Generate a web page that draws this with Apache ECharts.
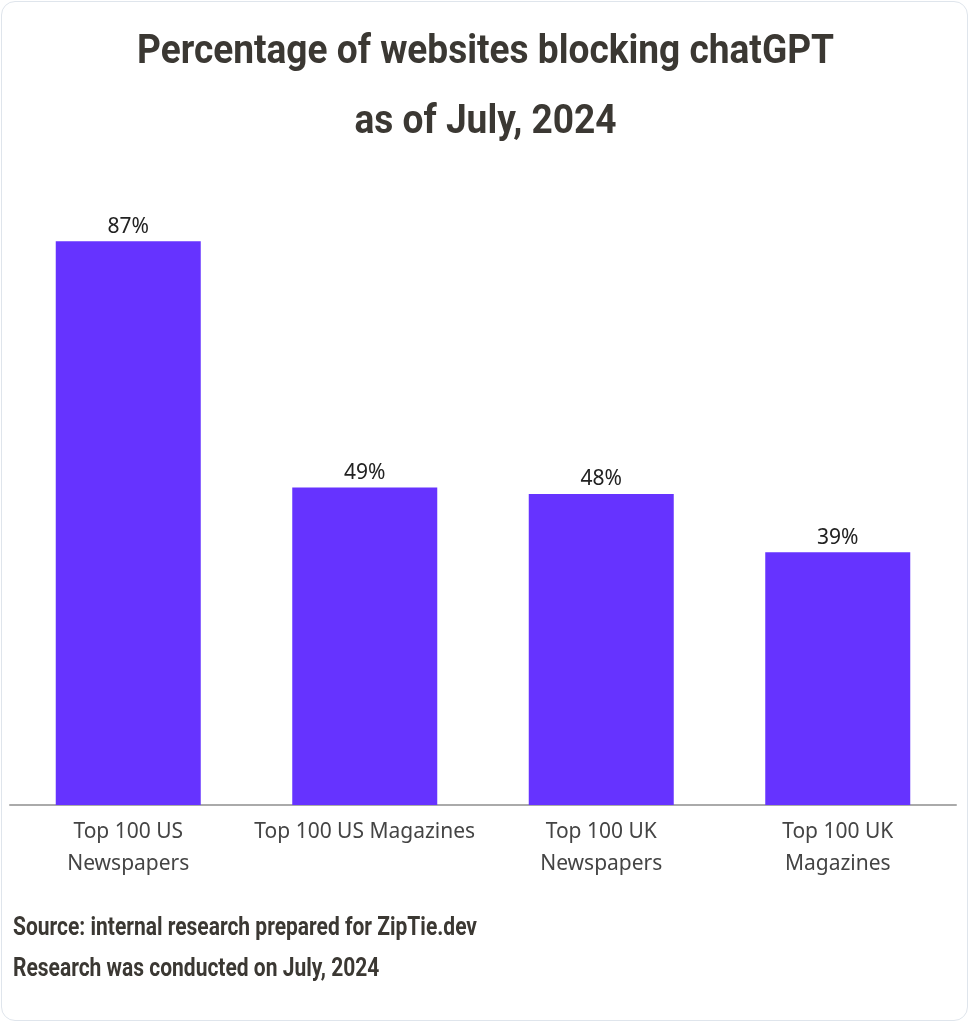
<!DOCTYPE html>
<html><head><meta charset="utf-8">
<script src="https://cdn.jsdelivr.net/npm/echarts@6/dist/echarts.min.js"></script>
<style>
html,body{margin:0;padding:0;background:#fff;}
#wrap{position:absolute;left:1px;top:1px;width:967px;height:1020px;border:1px solid #dfe5ec;border-radius:14px;box-sizing:border-box;overflow:hidden;}
#chart{position:absolute;left:0;top:0;width:971px;height:1024px;}
</style></head>
<body>
<div id="wrap"></div>
<div id="chart"></div>
<script>
const categories = ['Top 100 US\nNewspapers','Top 100 US Magazines','Top 100 UK\nNewspapers','Top 100 UK\nMagazines'];
const values = [87, 49, 48, 39];
const titleLines = ['Percentage of websites blocking chatGPT','as of July, 2024'];
const footnotes = ['Source: internal research prepared for ZipTie.dev','Research was conducted on July, 2024'];

const cv = document.createElement('canvas').getContext('2d');
function textWidth(t, font){ cv.font = font; return cv.measureText(t).width; }

const titleFont = 'bold 41px Roboto, sans-serif';
const titleScale = 697 / textWidth(titleLines[0], titleFont);
const footFont = 'bold 26px Roboto, sans-serif';
const footScale = 464 / textWidth(footnotes[0], footFont);
const ink = '#3b3833';

const graphics = [];
titleLines.forEach((t,i)=>{
  graphics.push({type:'text', x:485.5, y:53 + i*70, scaleX:titleScale,
    style:{text:t, font:titleFont, fill:ink, align:'center', verticalAlign:'middle'}});
});
footnotes.forEach((t,i)=>{
  graphics.push({type:'text', x:13, y:928 + i*41, scaleX:footScale,
    style:{text:t, font:footFont, fill:ink, align:'left', verticalAlign:'middle'}});
});

const chart = echarts.init(document.getElementById('chart'), null, {renderer:'canvas'});
chart.setOption({
  animation:false,
  backgroundColor:'transparent',
  graphic: graphics,
  grid:{left:10, right:15, top:157, bottom:219},
  xAxis:{
    type:'category', data:categories,
    axisLine:{lineStyle:{color:'#aaaaaa', width:2}},
    axisTick:{show:false},
    axisLabel:{interval:0, color:'#444444', fontSize:21, lineHeight:32, margin:11, fontFamily:'"Noto Sans", sans-serif'}
  },
  yAxis:{type:'value', min:0, max:100, show:false, splitLine:{show:false}},
  series:[{
    type:'bar', data:values, barWidth:145,
    itemStyle:{color:'#6633ff'},
    label:{show:true, position:'top', formatter:'{c}%', color:'#222222', fontSize:21, distance:4, fontFamily:'"Noto Sans", sans-serif'}
  }]
});
</script>
</body></html>
